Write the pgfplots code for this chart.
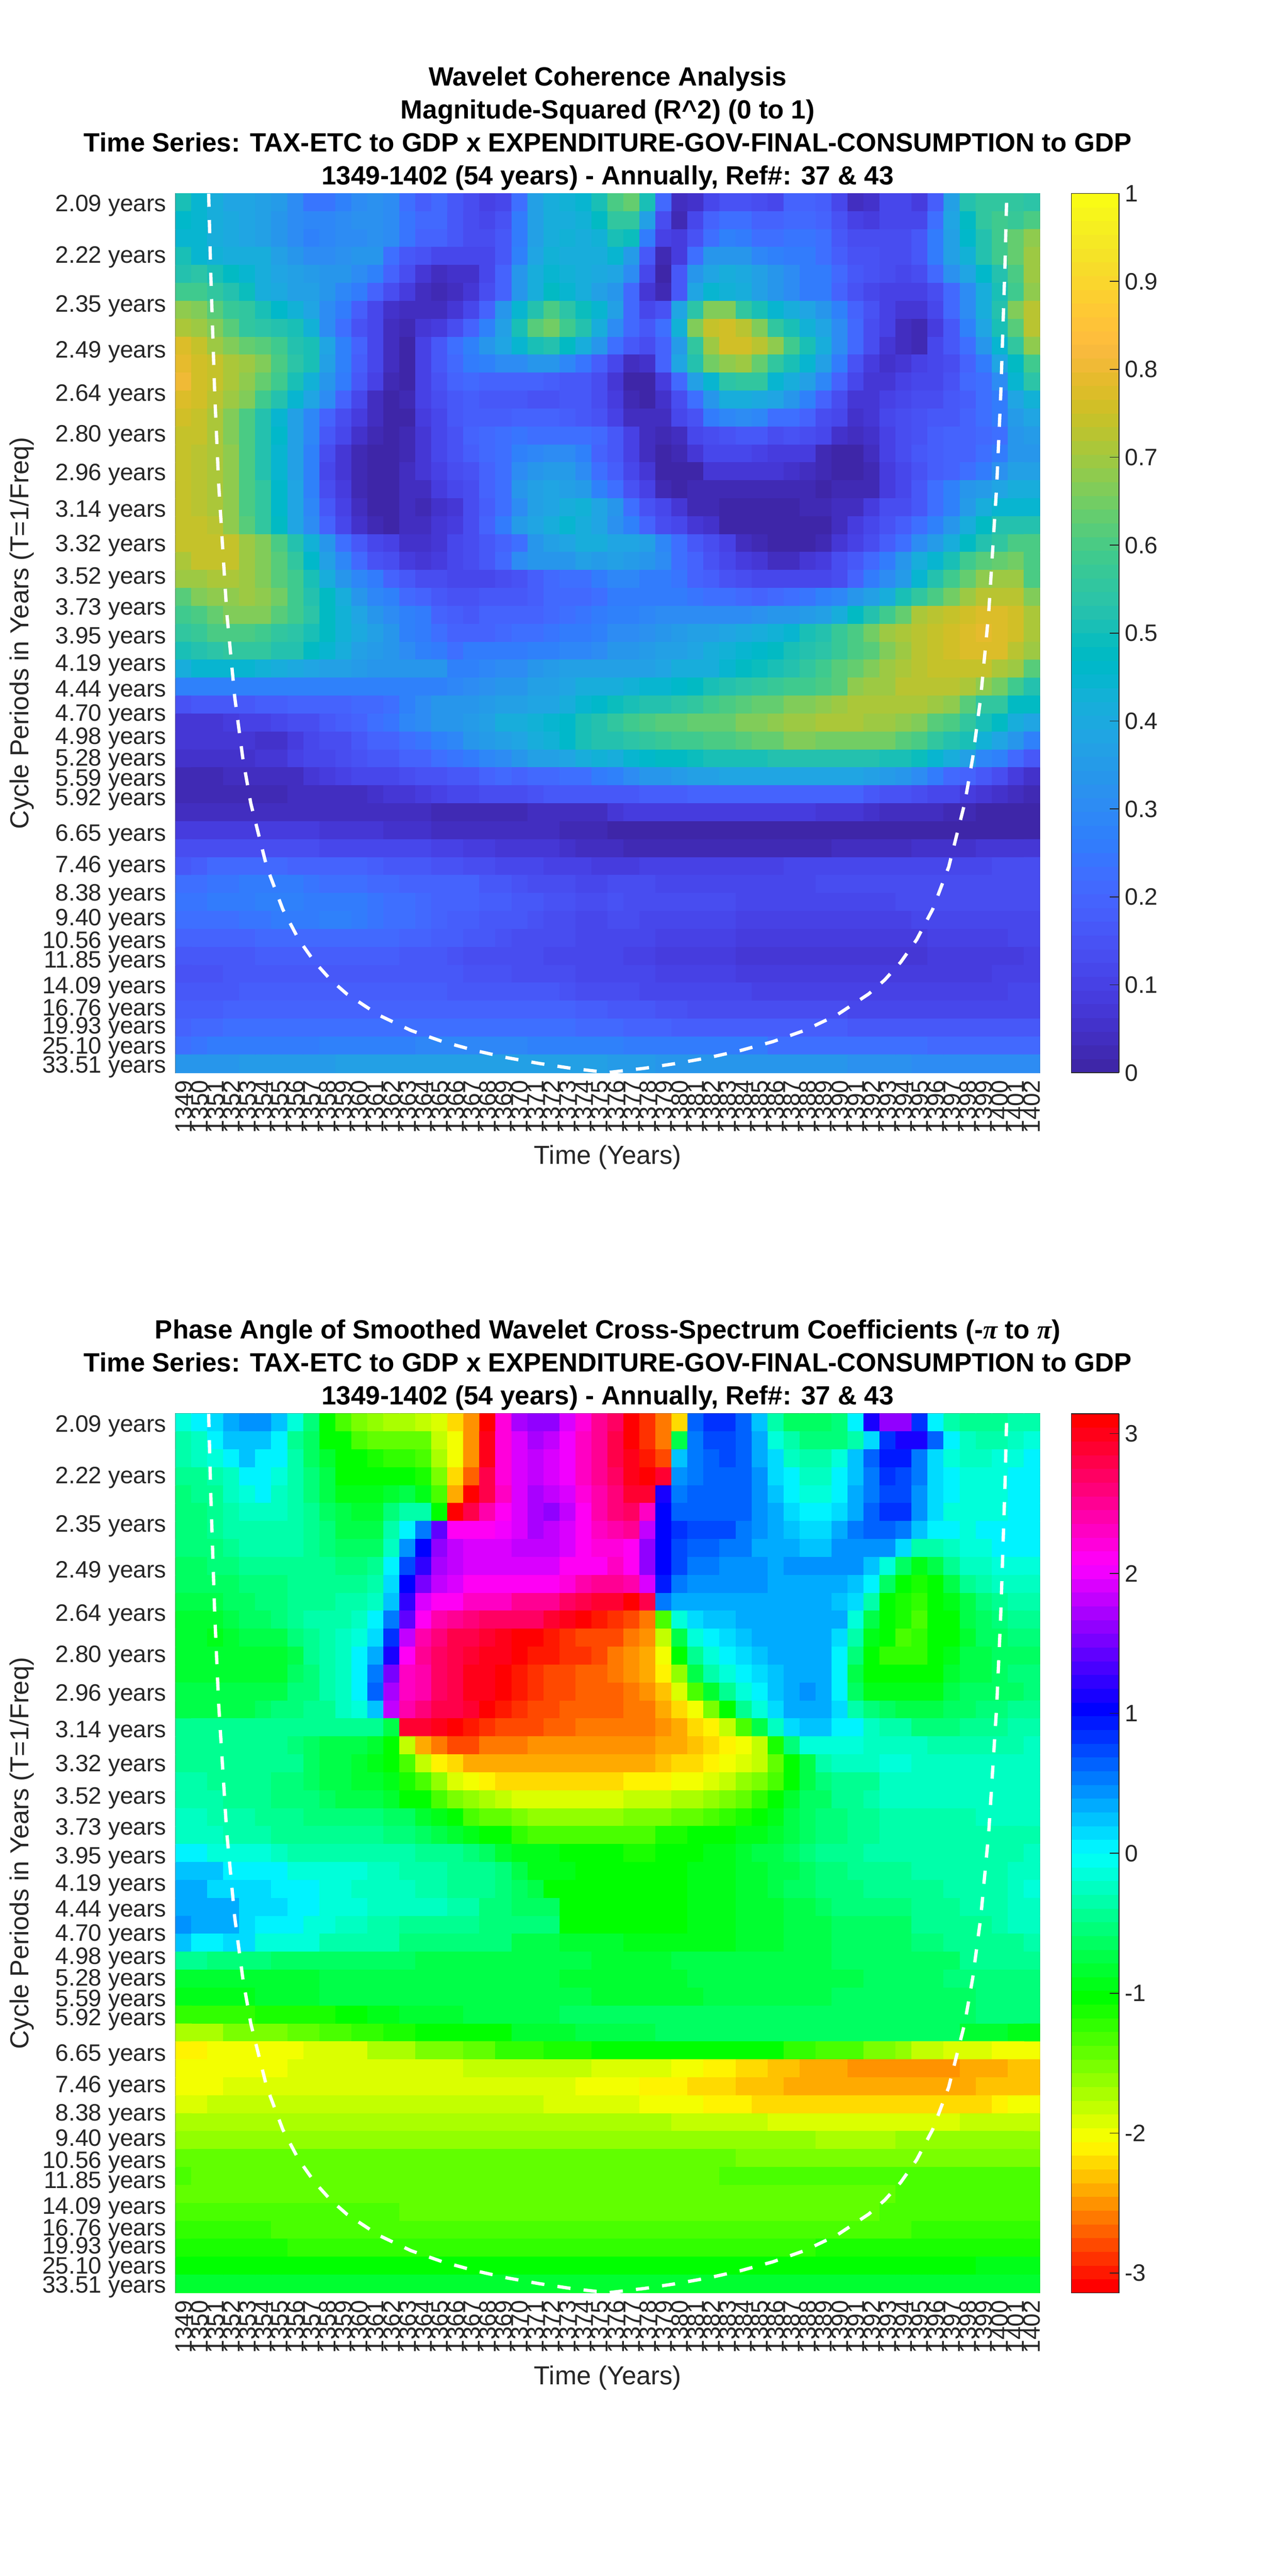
\documentclass[border=0pt]{standalone}
\usepackage{fontspec}
\setmainfont{Liberation Sans}
\newfontfamily\piserif{Liberation Serif}
\usepackage{pgfplots}
\pgfplotsset{compat=1.18}
\definecolor{axc}{HTML}{262626}
\pgfplotsset{
colormap={parula}{
rgb=(0.2422,0.1504,0.6603) rgb=(0.2504,0.1650,0.7076) rgb=(0.2578,0.1818,0.7511) rgb=(0.2647,0.1978,0.7952)
rgb=(0.2706,0.2147,0.8364) rgb=(0.2751,0.2342,0.8710) rgb=(0.2783,0.2559,0.8991) rgb=(0.2803,0.2782,0.9221)
rgb=(0.2813,0.3006,0.9414) rgb=(0.2810,0.3228,0.9579) rgb=(0.2795,0.3447,0.9717) rgb=(0.2760,0.3667,0.9829)
rgb=(0.2699,0.3892,0.9906) rgb=(0.2602,0.4123,0.9952) rgb=(0.2440,0.4358,0.9988) rgb=(0.2206,0.4603,0.9973)
rgb=(0.1963,0.4847,0.9892) rgb=(0.1834,0.5074,0.9798) rgb=(0.1786,0.5289,0.9682) rgb=(0.1764,0.5499,0.9520)
rgb=(0.1687,0.5703,0.9359) rgb=(0.1540,0.5902,0.9218) rgb=(0.1460,0.6091,0.9079) rgb=(0.1380,0.6276,0.8973)
rgb=(0.1248,0.6459,0.8883) rgb=(0.1113,0.6635,0.8763) rgb=(0.0952,0.6798,0.8598) rgb=(0.0689,0.6948,0.8394)
rgb=(0.0297,0.7082,0.8163) rgb=(0.0036,0.7203,0.7917) rgb=(0.0067,0.7312,0.7660) rgb=(0.0433,0.7411,0.7394)
rgb=(0.0964,0.7500,0.7120) rgb=(0.1408,0.7584,0.6842) rgb=(0.1717,0.7670,0.6554) rgb=(0.1938,0.7758,0.6251)
rgb=(0.2161,0.7843,0.5923) rgb=(0.2470,0.7918,0.5567) rgb=(0.2906,0.7973,0.5188) rgb=(0.3406,0.8008,0.4789)
rgb=(0.3909,0.8029,0.4354) rgb=(0.4456,0.8024,0.3909) rgb=(0.5044,0.7993,0.3480) rgb=(0.5616,0.7942,0.3045)
rgb=(0.6174,0.7876,0.2612) rgb=(0.6720,0.7793,0.2227) rgb=(0.7242,0.7698,0.1910) rgb=(0.7738,0.7598,0.1646)
rgb=(0.8203,0.7498,0.1535) rgb=(0.8634,0.7406,0.1596) rgb=(0.9035,0.7330,0.1774) rgb=(0.9393,0.7282,0.2100)
rgb=(0.9728,0.7298,0.2394) rgb=(0.9956,0.7434,0.2371) rgb=(0.9970,0.7659,0.2199) rgb=(0.9952,0.7893,0.2028)
rgb=(0.9892,0.8136,0.1885) rgb=(0.9786,0.8386,0.1766) rgb=(0.9676,0.8639,0.1643) rgb=(0.9610,0.8890,0.1537)
rgb=(0.9597,0.9135,0.1423) rgb=(0.9628,0.9373,0.1265) rgb=(0.9691,0.9606,0.1064) rgb=(0.9769,0.9839,0.0805)},
colormap={hsvbase}{rgb=(1,0,0) rgb=(1,1,0) rgb=(0,1,0) rgb=(0,1,1) rgb=(0,0,1) rgb=(1,0,1) rgb=(1,0,0)},
colormap={phase}{samples of colormap=(64 of hsvbase)},
wav/.style={
 scale only axis, width=524.5pt, height=533.5pt, anchor=south west,
 xmin=1348.5, xmax=1402.5, ymin=-0.5, ymax=48.5, y dir=reverse, enlargelimits=false,
 axis line style={axc,line width=0.55pt}, tick style={axc,line width=0.5pt},
 tick align=inside, major tick length=5pt, tick pos=both,
 xtick={1349,1350,...,1402},
 /pgf/number format/.cd,1000 sep={},assume math mode=true,/pgfplots/.cd,
 xticklabel style={rotate=90,anchor=east,xshift=-1pt,yshift=0pt,text=axc,font=\fontsize{14.4}{14.4}\selectfont},
 yticklabel style={text=axc,font=\fontsize{14.4}{14.4}\selectfont,xshift=-2pt,yshift=-2pt},
 ytick={0,2.874,5.586,8.146,10.563,12.844,14.996,17.028,18.946,20.756,22.465,24.078,25.6,27.037,28.393,29.673,30.881,32.022,33.098,34.114,35.073,35.978,36.833,37.639,38.4,39.118,39.797,40.437,41.04,41.611,42.149,42.657,43.137,43.589,44.017,44.419,44.8,45.159,45.498,45.818,46.12,46.406,46.675,46.928,47.168,47.394,47.608,47.809,48},
 yticklabels={2.09 years,2.22 years,2.35 years,2.49 years,2.64 years,2.80 years,2.96 years,3.14 years,3.32 years,3.52 years,3.73 years,3.95 years,4.19 years,4.44 years,4.70 years,4.98 years,5.28 years,5.59 years,5.92 years,,6.65 years,,7.46 years,,8.38 years,,9.40 years,,10.56 years,,11.85 years,,,14.09 years,,,16.76 years,,,19.93 years,,,,25.10 years,,,,,33.51 years},
 xlabel={Time (Years)}, ylabel={Cycle Periods in Years (T=1/Freq)},
 xlabel style={at={(axis description cs:0.5,-0.0965)},anchor=center,text=axc,font=\fontsize{15.8}{15.8}\selectfont},
 ylabel style={at={(axis description cs:-0.178,0.5)},anchor=center,text=axc,font=\fontsize{15.8}{15.8}\selectfont},
 title style={anchor=south,align=center,at={(axis description cs:0.5,1)},yshift=-7.5pt,font=\fontsize{16}{20}\selectfont\bfseries},
 colormap access=piecewise constant,
 colorbar sampled,
},
wavbar/.style={
 scale only axis, width=29pt, height=533.5pt,
 at={(parent axis.north east)}, anchor=north west, xshift=10.5pt,
 samples=65, axis line style={axc,line width=0.55pt},
 tick style={axc,line width=0.5pt}, major tick length=5.6pt, tick align=inside,
 ytick pos=right, yticklabel pos=right,
 yticklabel style={text=axc,font=\fontsize{14.4}{14.4}\selectfont,xshift=0pt,yshift=0pt},
},
}
\makeatletter
\newcount\cellcol \newcount\cellrow
\def\addcell#1{\ifnum\cellcol<54 \xdef\allcoords{\allcoords(\the\numexpr1349+\cellcol\relax,\the\cellrow)[\cellfmt{#1}]}\advance\cellcol by 1 \fi\gdef\lastcell{#1}}
\def\rowloop#1 {\ifx;#1\else\addcell{#1}\expandafter\rowloop\fi}
\def\padrow{\ifnum\cellcol<54 \expandafter\addcell\expandafter{\lastcell}\expandafter\padrow\fi}
\def\R#1{\cellcol=0 \rowloop#1 ; \padrow\global\advance\cellrow by 1 }
\makeatother
\def\cellA#1{0.#1}
\def\cellB#1{#1e-1}
\let\cellfmt\cellA \gdef\allcoords{} \cellrow=0
\R{50 44 41 39 39 37 35 30 24 24 27 31 32 30 23 18 21 17 13 10 12 23 37 42 43 44 51 60 64 50 21 04 06 12 15 15 13 12 19 20 18 12 04 06 12 12 08 18 37 52 56 56 55 54}
\R{46 44 41 40 38 37 33 30 29 29 30 32 32 30 24 21 21 17 13 12 15 25 37 42 42 43 48 55 55 37 13 03 11 19 22 22 19 19 21 21 19 15 10 08 12 12 12 23 38 47 56 58 57 60}
\R{45 44 42 40 38 37 33 31 28 29 30 30 32 31 24 19 19 16 14 13 17 26 37 42 43 42 43 50 49 25 10 08 15 23 27 25 22 22 24 24 22 17 13 13 13 14 16 26 37 46 52 58 63 68}
\R{50 44 43 42 42 41 37 33 31 31 32 33 33 23 17 15 12 11 11 12 17 28 38 43 42 42 42 44 35 16 03 08 23 33 33 33 29 28 25 25 23 18 15 15 14 14 16 26 36 43 52 58 64 70}
\R{53 54 50 48 44 42 39 37 35 33 33 31 28 20 14 07 04 06 06 11 19 33 42 44 43 42 40 39 30 11 01 16 33 39 42 40 36 33 31 26 25 21 17 15 14 12 13 21 32 39 46 53 60 70}
\R{59 58 56 52 49 42 40 37 36 33 29 25 19 13 08 04 03 04 07 13 20 33 42 47 44 42 37 33 21 07 03 17 38 44 43 42 36 33 30 26 25 19 15 12 10 10 10 14 21 31 42 50 58 68}
\R{68 66 62 57 55 51 46 43 38 31 25 18 12 06 04 04 04 07 12 20 33 44 53 60 54 49 44 36 21 11 15 38 54 66 66 56 50 44 42 39 33 27 20 15 10 07 07 12 21 30 42 53 66 72}
\R{71 70 66 61 56 54 52 50 43 31 23 15 11 04 03 07 08 13 20 28 37 50 62 65 58 52 42 31 21 17 23 43 66 74 75 72 66 56 50 43 39 31 21 13 10 04 03 08 16 27 39 50 62 72}
\R{78 74 70 66 64 62 58 53 50 38 28 20 12 04 01 10 16 22 27 33 38 44 50 52 47 42 33 22 16 14 19 35 56 70 75 76 72 68 58 50 41 31 21 13 07 04 03 11 16 23 33 44 56 68}
\R{79 75 74 71 70 66 60 54 50 37 27 18 12 04 01 10 16 21 25 28 30 31 33 33 29 24 18 11 04 06 19 38 52 65 68 70 64 56 50 44 37 25 15 08 06 07 10 11 13 20 26 39 48 58}
\R{80 76 74 71 68 63 58 50 43 34 25 17 10 03 01 10 15 19 21 20 20 20 20 18 17 16 13 07 01 01 08 21 37 44 54 56 56 44 42 37 29 19 11 07 07 10 11 12 15 21 23 30 44 54}
\R{78 76 72 70 66 58 52 44 39 30 20 11 04 01 03 10 13 17 18 17 17 16 15 15 16 16 13 08 03 01 06 14 23 33 41 42 40 38 34 28 20 13 07 07 10 12 14 14 16 18 22 26 38 43}
\R{76 74 71 66 60 53 44 37 29 20 14 08 04 00 01 08 12 16 18 18 18 20 20 19 18 17 15 10 04 04 04 11 15 25 29 30 29 23 23 20 13 11 06 07 11 13 15 17 17 19 23 26 35 39}
\R{74 74 71 67 60 53 46 37 29 16 11 06 03 01 03 07 12 15 20 21 23 24 23 23 23 23 21 16 10 04 03 04 11 14 15 17 16 13 15 13 11 06 04 06 10 14 15 18 19 20 21 23 33 35}
\R{74 73 71 68 60 53 45 37 27 13 07 03 01 00 03 07 11 15 18 21 23 27 29 30 30 28 20 16 10 04 01 03 07 11 11 11 10 08 08 08 03 01 01 04 10 13 16 18 19 20 23 26 33 34}
\R{74 73 71 68 60 53 45 37 27 12 07 03 01 01 04 07 10 13 15 20 23 31 33 35 35 31 23 18 12 07 01 01 01 07 07 07 07 07 06 04 03 01 01 03 08 12 15 18 20 23 26 32 37 37}
\R{74 73 71 68 60 55 46 38 27 14 08 03 01 01 04 04 08 11 13 20 23 33 36 39 37 35 28 23 15 10 03 01 03 03 03 03 03 03 03 03 01 03 03 03 08 11 17 23 28 33 35 39 42 42}
\R{74 73 71 68 60 55 46 38 29 17 10 04 01 01 04 03 06 07 13 18 23 31 36 39 42 43 38 34 23 15 11 07 03 03 01 01 01 01 01 03 03 04 04 08 13 14 17 22 28 35 42 44 44 45}
\R{74 74 72 68 62 56 48 39 31 19 12 06 03 01 04 04 07 08 14 19 25 35 39 42 44 42 38 32 28 19 13 11 07 06 01 00 00 00 00 00 01 04 08 12 15 18 23 28 34 41 47 52 52 52}
\R{74 74 74 74 70 67 60 52 43 33 23 16 12 10 06 06 07 12 13 16 20 23 33 37 39 42 42 39 38 36 29 23 17 13 10 04 03 01 01 01 03 07 10 13 18 22 31 35 42 47 53 56 60 60}
\R{71 74 74 74 70 67 62 55 46 37 29 21 15 13 08 07 08 11 14 17 21 30 33 34 34 36 35 37 35 34 30 23 19 15 11 08 07 04 04 07 08 13 17 21 26 34 42 44 51 58 62 63 65 60}
\R{70 70 71 71 70 67 62 58 50 41 34 29 25 20 17 14 13 11 11 12 13 15 18 21 23 23 25 29 29 26 25 24 20 18 15 13 11 11 11 12 12 14 19 25 30 35 44 53 58 64 68 70 70 60}
\R{62 66 68 68 70 68 65 58 53 48 42 33 29 28 21 19 16 15 15 17 17 17 18 21 21 21 23 25 25 25 25 25 24 23 22 21 20 21 22 24 27 29 33 37 42 50 55 60 65 70 72 72 72 66}
\R{58 60 64 66 67 66 62 58 54 48 43 38 33 31 27 25 20 18 17 19 19 19 20 21 23 24 25 27 28 29 30 30 30 30 30 31 32 33 33 35 37 42 47 52 58 64 71 72 74 76 77 77 75 71}
\R{55 57 60 60 60 58 56 54 50 47 43 40 37 33 28 26 22 20 20 20 21 22 23 24 26 26 28 30 31 32 33 35 37 37 39 40 42 43 45 50 53 57 60 65 70 71 73 74 75 77 79 77 75 71}
\R{50 52 54 56 56 55 53 52 48 45 41 37 35 33 30 27 25 23 25 25 25 26 27 28 29 29 31 33 33 35 37 37 39 42 43 44 46 48 50 52 54 57 60 62 66 70 72 74 75 77 77 77 72 70}
\R{42 44 45 45 44 43 42 40 38 37 36 35 33 33 33 33 33 27 27 29 31 31 33 35 36 37 37 36 36 37 39 41 42 42 44 47 49 50 53 56 58 61 64 66 70 71 72 74 74 74 74 71 70 62}
\R{27 27 27 27 27 27 27 27 27 27 27 27 27 27 27 27 27 29 30 32 33 34 36 37 39 41 42 42 43 44 44 46 48 50 52 54 56 57 58 59 60 62 68 70 70 72 72 72 72 71 68 65 58 52}
\R{15 16 16 17 17 18 18 19 19 20 20 21 21 23 28 31 33 34 34 35 37 37 38 39 42 44 46 49 50 52 53 54 56 58 60 62 63 64 66 67 68 70 71 71 71 71 71 70 68 62 56 55 48 47}
\R{07 07 07 08 10 10 12 13 14 16 18 20 22 24 29 31 33 33 35 37 41 42 43 44 46 50 52 55 58 60 62 62 64 64 64 66 66 68 70 70 71 71 71 70 70 68 66 62 60 55 50 47 42 38}
\R{07 07 07 07 07 06 06 08 11 13 14 16 19 20 22 24 27 29 33 35 37 39 42 43 46 50 52 52 54 55 57 58 59 60 60 62 63 64 66 66 65 65 65 65 65 62 60 56 53 50 43 38 33 27}
\R{06 06 06 06 06 07 07 10 11 12 14 15 17 17 19 20 22 24 26 29 31 33 36 37 38 41 43 42 44 46 47 48 49 50 50 50 51 52 52 52 52 52 52 52 51 50 49 44 41 36 29 27 21 17}
\R{03 03 03 04 04 04 04 04 07 08 10 11 12 12 13 15 15 17 17 19 21 20 21 21 22 23 26 28 30 33 33 35 36 37 38 38 39 39 39 39 39 39 38 37 35 33 31 25 21 19 16 13 08 06}
\R{03 03 03 03 03 03 03 04 04 04 04 04 06 07 07 08 10 11 12 13 14 14 15 16 16 16 17 17 17 18 18 18 19 19 19 19 19 19 19 19 19 19 19 17 15 15 13 12 11 08 07 06 04 03}
\R{04 04 04 04 04 04 04 04 04 04 04 04 04 04 04 04 03 03 03 03 03 03 04 04 04 04 04 07 08 08 08 08 08 08 08 08 08 08 08 08 07 07 07 06 04 04 04 04 03 03 01 01 01 01}
\R{08 08 08 08 08 08 08 08 08 07 07 07 07 06 06 06 04 04 04 04 04 04 04 04 03 03 03 01 01 01 01 01 01 01 01 01 01 00 00 00 00 00 00 00 00 00 00 00 00 01 01 01 01 01}
\R{14 14 14 14 14 14 14 13 13 12 12 12 11 11 11 11 10 10 08 08 07 07 07 07 06 04 04 04 03 03 03 03 03 03 03 03 03 03 03 03 03 04 04 04 04 04 06 06 06 06 07 07 07 07}
\R{17 18 21 21 21 21 21 20 20 19 19 19 18 17 16 16 15 15 14 13 12 11 11 10 10 10 08 08 08 10 10 10 10 10 10 10 10 10 11 11 11 11 11 11 11 11 11 12 12 12 12 13 13 13}
\R{22 22 24 24 26 26 25 25 24 23 23 23 21 21 20 19 19 19 19 17 16 15 14 13 13 12 12 13 13 13 12 12 12 12 12 12 12 12 12 12 13 13 13 13 13 13 13 13 13 14 14 14 14 14}
\R{24 24 25 26 26 27 27 27 26 26 26 25 24 23 22 21 20 19 19 18 18 16 16 15 15 14 13 15 14 14 14 13 13 13 13 12 12 12 12 12 12 12 12 12 12 13 13 13 13 13 14 14 14 14}
\R{22 22 23 23 24 24 25 26 26 27 27 25 24 23 22 21 20 18 18 17 16 16 15 14 13 12 12 13 13 12 12 11 11 11 11 10 10 10 10 10 10 10 10 10 10 10 11 11 11 11 11 12 12 12}
\R{19 19 19 20 20 21 21 21 21 21 21 21 21 21 20 19 18 18 17 16 15 14 14 13 13 12 12 12 11 11 10 10 10 10 10 08 08 08 08 08 08 08 08 08 08 08 08 10 10 10 10 10 11 11}
\R{16 16 17 17 17 18 18 18 18 18 18 18 18 18 17 16 16 15 14 14 14 13 13 12 12 11 11 11 10 10 08 08 08 08 08 07 07 07 07 07 07 07 07 07 07 07 07 08 08 08 08 08 08 10}
\R{15 15 15 16 16 16 17 17 17 17 17 17 17 17 17 16 16 16 15 15 15 14 14 13 13 12 11 11 11 11 10 10 10 10 10 08 08 08 08 08 08 08 08 08 08 08 08 08 08 08 08 10 10 10}
\R{16 17 17 17 18 18 18 18 18 18 18 18 18 18 18 18 18 17 17 17 17 16 16 16 15 14 13 13 13 12 12 12 11 11 11 11 10 10 10 10 10 10 10 10 10 10 10 10 10 10 10 10 11 11}
\R{18 18 18 19 19 19 20 20 20 20 20 20 20 20 20 20 20 20 20 20 20 20 19 19 19 18 18 17 16 16 15 15 14 14 14 13 13 13 13 13 13 13 12 12 12 12 12 11 11 12 12 12 12 12}
\R{20 21 21 22 22 22 22 22 22 22 23 23 23 23 23 23 23 23 23 23 23 23 22 22 22 21 21 21 20 20 19 18 18 18 18 18 18 18 18 18 18 18 17 17 17 17 17 16 16 16 16 16 16 16}
\R{23 24 25 25 25 26 26 26 26 27 27 27 27 28 28 29 29 29 29 29 29 29 28 28 28 27 27 27 26 26 26 25 25 25 25 25 25 23 23 23 23 23 22 22 22 22 22 21 21 21 21 21 21 21}
\R{34 34 34 34 35 35 35 35 35 35 36 36 36 36 36 36 36 37 37 37 37 37 37 36 36 36 36 35 35 35 34 34 34 34 34 34 34 33 33 33 33 33 32 32 32 32 31 31 31 31 31 30 30 30}
\global\let\coordsA\allcoords
\let\cellfmt\cellB \gdef\allcoords{} \cellrow=0
\R{-1 0 1 3 4 4 2 -1 -5 -10 -13 -15 -16 -17 -17 -18 -19 -22 -25 -31 22 17 16 16 19 22 25 27 31 -29 -26 -22 6 8 8 6 2 -3 -6 -6 -6 -5 0 11 16 16 8 0 -3 -4 -4 -4 -3 -3}
\R{-3 -2 0 2 2 2 0 -4 -6 -10 -10 -13 -14 -14 -14 -14 -18 -20 -25 30 22 19 17 18 20 23 25 28 31 -29 -26 -7 5 7 7 6 3 -1 -3 -5 -5 -5 -3 1 8 11 11 6 0 -2 -3 -3 -2 -1}
\R{-3 -2 -1 0 2 0 0 -3 -6 -8 -10 -10 -11 -12 -12 -13 -17 -20 -25 30 22 19 18 19 20 23 25 28 30 -30 -28 2 5 6 7 6 3 1 -2 -3 -3 -1 2 6 9 9 5 1 -1 -2 -2 -1 -1 0}
\R{-4 -4 -3 -2 0 0 -1 -3 -5 -7 -10 -10 -10 -10 -10 -11 -15 -22 -27 28 22 19 18 19 20 23 25 27 30 31 29 4 5 6 6 6 4 1 0 -2 -2 0 2 5 8 7 5 1 0 -1 -1 -1 0 0}
\R{-5 -4 -4 -2 -1 0 -2 -3 -5 -7 -9 -9 -9 -8 -7 -9 -13 -24 -31 28 23 19 17 18 19 22 24 26 29 29 11 5 6 6 6 6 4 2 0 -1 -1 0 3 5 7 7 4 1 0 -1 -1 -1 0 0}
\R{-5 -5 -4 -3 -2 -2 -2 -3 -4 -6 -7 -8 -8 -5 -3 -3 -10 31 28 24 21 19 17 16 18 21 24 26 27 23 10 6 6 6 6 6 4 3 1 0 0 1 3 6 8 8 4 1 -1 -1 -1 -1 0 0}
\R{-5 -5 -4 -3 -3 -3 -3 -3 -4 -5 -7 -7 -7 -3 0 5 14 21 21 21 20 19 17 18 19 21 23 24 25 18 10 8 7 7 7 5 4 3 2 1 1 3 5 6 6 5 2 0 0 -1 0 0 0 0}
\R{-5 -5 -5 -4 -3 -3 -3 -3 -4 -5 -6 -6 -6 -2 4 10 16 18 19 19 19 18 18 18 19 21 22 22 21 16 10 7 6 6 5 5 3 3 3 2 2 4 4 4 4 1 -3 -3 -2 -1 -1 0 0 0}
\R{-6 -6 -5 -5 -4 -4 -4 -4 -4 -4 -5 -5 -4 0 7 12 17 18 19 19 19 19 19 19 21 21 21 23 21 16 10 7 5 5 4 4 4 3 4 4 4 4 4 2 -1 -6 -9 -7 -4 -2 -2 -1 -1 -1}
\R{-6 -6 -6 -6 -5 -5 -5 -4 -4 -4 -4 -4 -3 1 10 15 18 19 21 21 21 21 21 21 22 24 25 25 24 19 9 5 4 4 4 4 4 3 3 3 3 3 2 0 -6 -10 -11 -10 -7 -4 -3 -2 -2 -2}
\R{-7 -7 -7 -6 -6 -5 -5 -4 -4 -4 -3 -3 -2 2 12 19 21 21 23 23 23 25 25 25 27 28 29 29 31 28 5 3 3 3 3 3 3 3 3 3 3 2 1 -3 -10 -11 -12 -10 -9 -7 -5 -4 -3 -3}
\R{-8 -8 -8 -7 -6 -6 -5 -4 -3 -3 -3 -2 0 5 14 21 24 25 26 27 27 27 27 29 30 31 -30 -29 -28 -26 -13 -1 1 2 2 3 3 3 3 3 3 3 -1 -7 -10 -11 -13 -10 -10 -7 -6 -5 -4 -4}
\R{-8 -8 -9 -8 -7 -7 -7 -5 -4 -3 -2 -1 1 8 18 24 26 28 28 29 30 31 31 -30 -29 -28 -28 -28 -26 -25 -18 -7 -1 0 1 2 3 3 3 3 3 1 -3 -9 -10 -13 -12 -10 -10 -8 -6 -6 -5 -5}
\R{-8 -8 -8 -8 -8 -8 -8 -7 -4 -3 -2 0 3 11 21 25 27 28 29 30 30 31 -30 -30 -29 -29 -28 -26 -25 -24 -20 -10 -4 -1 0 1 2 3 3 3 3 0 -5 -10 -12 -12 -12 -10 -9 -7 -7 -6 -6 -6}
\R{-8 -8 -8 -8 -8 -8 -8 -6 -5 -3 -2 0 5 15 23 24 27 28 30 30 31 -30 -29 -28 -28 -27 -27 -26 -25 -24 -21 -16 -7 -3 -1 0 1 2 3 3 3 0 -7 -10 -10 -10 -10 -10 -8 -7 -7 -6 -5 -5}
\R{-7 -7 -7 -7 -7 -7 -7 -5 -5 -3 -2 0 6 17 23 24 27 28 30 30 31 -30 -29 -28 -28 -27 -27 -27 -26 -25 -23 -19 -13 -8 -4 -1 0 2 3 4 3 0 -6 -9 -9 -9 -9 -9 -7 -6 -6 -6 -6 -5}
\R{-7 -7 -7 -7 -7 -6 -5 -5 -4 -4 -2 -1 2 18 24 26 28 28 29 31 -30 -29 -28 -28 -27 -27 -27 -27 -26 -26 -24 -22 -20 -15 -10 -4 -1 1 3 3 3 1 -3 -5 -6 -7 -7 -7 -6 -6 -5 -5 -4 -4}
\R{-4 -4 -4 -4 -4 -4 -4 -4 -4 -4 -4 -4 -4 -7 29 29 30 31 -30 -29 -28 -28 -28 -27 -27 -26 -26 -26 -26 -26 -25 -24 -22 -21 -18 -13 -7 -2 1 2 2 0 0 -2 -3 -3 -5 -5 -5 -4 -4 -4 -3 -3}
\R{-4 -4 -4 -4 -4 -4 -4 -5 -6 -7 -7 -7 -8 -10 -18 -24 -26 -28 -28 -26 -26 -26 -25 -25 -25 -25 -25 -25 -25 -25 -24 -24 -23 -22 -21 -20 -18 -11 -5 -1 -1 -1 -1 -2 -2 -2 -2 -3 -3 -3 -3 -3 -3 -2}
\R{-4 -4 -4 -4 -4 -4 -4 -4 -6 -7 -7 -8 -9 -10 -13 -18 -21 -22 -24 -24 -24 -24 -24 -24 -24 -24 -24 -24 -24 -24 -23 -22 -22 -21 -20 -19 -18 -14 -10 -7 -3 -2 -2 -2 -1 -1 -2 -2 -2 -2 -2 -2 -2 -2}
\R{-3 -3 -4 -4 -4 -4 -5 -5 -6 -7 -7 -8 -8 -9 -11 -13 -16 -19 -20 -21 -22 -22 -22 -22 -22 -22 -22 -22 -21 -21 -21 -20 -20 -19 -18 -16 -15 -13 -10 -7 -5 -4 -4 -4 -2 -2 -2 -2 -2 -2 -2 -2 -2 -2}
\R{-3 -3 -3 -4 -4 -4 -5 -5 -5 -6 -7 -7 -7 -8 -10 -10 -13 -15 -16 -17 -18 -19 -19 -19 -19 -19 -19 -19 -18 -18 -18 -17 -17 -16 -15 -14 -12 -10 -8 -6 -6 -4 -4 -3 -2 -2 -2 -2 -2 -2 -2 -2 -2 -2}
\R{-2 -2 -3 -3 -3 -4 -4 -4 -5 -5 -5 -5 -5 -6 -6 -8 -9 -10 -13 -14 -14 -15 -16 -16 -16 -16 -16 -16 -15 -15 -15 -14 -14 -13 -12 -11 -10 -9 -7 -6 -5 -5 -4 -4 -3 -3 -3 -3 -3 -3 -2 -2 -2 -2}
\R{-2 -2 -2 -3 -3 -3 -4 -4 -4 -4 -4 -4 -4 -5 -5 -6 -7 -8 -9 -10 -10 -12 -13 -13 -13 -13 -13 -13 -13 -13 -11 -11 -10 -10 -10 -9 -9 -8 -7 -6 -5 -5 -4 -4 -3 -3 -3 -3 -3 -3 -3 -3 -3 -3}
\R{0 0 -1 -1 -1 -1 -2 -3 -3 -3 -3 -3 -3 -3 -3 -4 -4 -4 -5 -6 -8 -9 -9 -9 -10 -10 -10 -10 -11 -11 -10 -10 -10 -9 -9 -8 -7 -7 -6 -5 -4 -4 -4 -3 -3 -3 -3 -3 -3 -3 -3 -3 -3 -2}
\R{2 2 2 0 0 0 0 -1 -1 -1 -1 -1 -2 -2 -3 -3 -3 -4 -4 -4 -5 -7 -9 -9 -9 -10 -10 -10 -10 -10 -10 -10 -9 -9 -9 -8 -8 -7 -7 -6 -5 -5 -4 -4 -4 -4 -3 -3 -3 -3 -3 -3 -2 -2}
\R{3 3 1 1 1 1 0 0 0 -1 -1 -2 -2 -2 -2 -3 -3 -4 -4 -4 -5 -6 -7 -10 -10 -10 -10 -10 -10 -10 -10 -10 -9 -9 -9 -8 -8 -7 -6 -6 -5 -5 -5 -4 -4 -4 -4 -4 -3 -3 -3 -3 -2 -1}
\R{3 3 3 3 1 1 1 0 0 -1 -1 -1 -2 -2 -2 -2 -2 -3 -3 -5 -5 -6 -6 -6 -10 -10 -10 -10 -10 -10 -10 -10 -9 -9 -9 -8 -8 -8 -7 -7 -6 -5 -5 -5 -5 -5 -4 -4 -4 -3 -3 -3 -2 -2}
\R{4 3 3 3 1 0 0 0 -1 -1 -2 -2 -3 -3 -4 -4 -4 -4 -4 -5 -5 -5 -5 -5 -10 -10 -10 -10 -10 -10 -10 -10 -9 -9 -9 -8 -8 -8 -7 -7 -7 -6 -6 -6 -6 -6 -4 -4 -4 -4 -4 -3 -2 -2}
\R{2 0 0 1 1 -1 -1 -1 -1 -3 -3 -3 -3 -3 -5 -5 -5 -5 -5 -5 -5 -7 -7 -7 -8 -8 -8 -8 -9 -9 -9 -9 -9 -9 -9 -8 -8 -8 -7 -7 -7 -6 -6 -6 -6 -6 -5 -5 -4 -4 -4 -4 -4 -3}
\R{-4 -4 -5 -5 -5 -5 -6 -6 -6 -6 -6 -6 -6 -6 -6 -7 -7 -7 -7 -7 -7 -7 -7 -7 -7 -7 -8 -8 -8 -8 -8 -7 -7 -7 -7 -7 -7 -7 -7 -7 -7 -6 -6 -6 -6 -6 -6 -6 -6 -4 -4 -4 -4 -4}
\R{-8 -8 -8 -8 -8 -8 -8 -8 -8 -7 -7 -7 -7 -7 -7 -7 -7 -7 -7 -7 -7 -7 -7 -7 -8 -8 -8 -8 -8 -8 -8 -8 -7 -7 -7 -7 -7 -7 -7 -7 -7 -7 -7 -6 -6 -6 -6 -6 -5 -5 -5 -5 -5 -5}
\R{-9 -9 -9 -9 -9 -8 -8 -8 -8 -7 -7 -7 -7 -7 -7 -7 -7 -7 -7 -7 -7 -7 -7 -7 -7 -7 -8 -8 -8 -8 -8 -8 -8 -7 -7 -7 -7 -7 -7 -7 -7 -6 -6 -6 -6 -6 -6 -6 -6 -6 -5 -5 -5 -5}
\R{-12 -12 -12 -12 -12 -11 -11 -11 -11 -11 -10 -10 -9 -9 -8 -8 -8 -8 -7 -7 -7 -7 -7 -7 -6 -6 -6 -6 -6 -6 -6 -6 -6 -6 -6 -6 -6 -6 -6 -6 -6 -6 -6 -6 -6 -6 -6 -6 -6 -6 -5 -5 -5 -5}
\R{-17 -17 -17 -15 -15 -15 -15 -14 -14 -13 -13 -12 -12 -11 -11 -10 -10 -10 -10 -10 -10 -8 -8 -8 -8 -7 -7 -7 -7 -7 -6 -6 -6 -6 -6 -6 -6 -6 -6 -6 -6 -6 -6 -6 -6 -6 -6 -6 -6 -8 -8 -8 -9 -9}
\R{-21 -21 -20 -20 -20 -20 -20 -20 -19 -19 -19 -19 -17 -17 -17 -15 -15 -15 -14 -14 -12 -12 -12 -11 -11 -11 -10 -10 -10 -10 -10 -10 -10 -10 -10 -10 -10 -10 -12 -12 -13 -13 -13 -15 -15 -16 -18 -18 -19 -19 -19 -20 -20 -20}
\R{-20 -20 -20 -20 -20 -20 -20 -19 -19 -19 -19 -19 -19 -19 -19 -19 -19 -19 -18 -18 -18 -18 -18 -18 -18 -18 -19 -19 -19 -19 -19 -20 -20 -21 -21 -22 -22 -23 -23 -24 -24 -24 -25 -25 -25 -25 -25 -25 -25 -24 -24 -24 -23 -23}
\R{-20 -20 -20 -19 -19 -19 -19 -19 -19 -19 -19 -19 -19 -19 -19 -19 -19 -19 -19 -19 -19 -19 -19 -19 -19 -20 -20 -20 -20 -21 -21 -21 -22 -22 -22 -23 -23 -23 -24 -24 -24 -24 -24 -24 -24 -24 -24 -24 -24 -24 -23 -23 -23 -23}
\R{-19 -19 -18 -18 -18 -18 -18 -18 -18 -18 -18 -18 -18 -18 -18 -18 -18 -18 -18 -18 -18 -18 -18 -19 -19 -19 -19 -19 -19 -20 -20 -20 -20 -21 -21 -21 -22 -22 -22 -22 -22 -22 -22 -22 -22 -22 -22 -22 -22 -22 -22 -21 -20 -20}
\R{-17 -17 -17 -17 -17 -17 -17 -17 -17 -17 -17 -17 -17 -17 -17 -17 -17 -17 -17 -17 -17 -17 -17 -17 -17 -17 -17 -17 -17 -17 -17 -18 -18 -18 -18 -18 -18 -19 -19 -19 -19 -19 -19 -19 -19 -19 -19 -19 -19 -18}
\R{-16 -16 -16 -16 -16 -16 -16 -16 -16 -16 -16 -16 -16 -16 -16 -16 -16 -16 -16 -16 -16 -16 -16 -16 -16 -16 -16 -16 -16 -16 -16 -16 -16 -16 -16 -16 -16 -16 -16 -16 -17 -17 -17 -17 -17 -16}
\R{-14 -14 -14 -14 -14 -14 -14 -14 -14 -14 -14 -14 -14 -14 -14 -14 -14 -14 -14 -14 -14 -14 -14 -14 -14 -14 -14 -14 -14 -14 -14 -14 -14 -14 -14 -15}
\R{-13 -14 -14 -14 -14 -14 -14 -14 -14 -14 -14 -14 -14 -14 -14 -14 -14 -14 -14 -14 -14 -14 -14 -14 -14 -14 -14 -14 -14 -14 -14 -14 -14 -14 -13}
\R{-14 -14 -14 -14 -14 -14 -14 -14 -14 -14 -14 -14 -14 -14 -14 -14 -14 -14 -14 -14 -14 -14 -14 -14 -14 -14 -14 -14 -14 -14 -14 -14 -14 -14 -14 -14 -14 -14 -14 -14 -14 -14 -14 -14 -14 -13}
\R{-13 -13 -13 -13 -13 -13 -13 -13 -13 -13 -13 -13 -13 -13 -14 -14 -14 -14 -14 -14 -14 -14 -14 -14 -14 -14 -14 -14 -14 -14 -14 -14 -14 -14 -14 -14 -14 -14 -14 -14 -14 -14 -14 -14 -13}
\R{-12 -12 -12 -12 -12 -12 -13 -13 -13 -13 -13 -13 -13 -13 -13 -13 -13 -13 -13 -13 -13 -13 -13 -13 -13 -13 -13 -13 -13 -13 -13 -13 -13 -13 -13 -13 -13 -13 -13 -13 -13 -13 -13 -13 -13 -13 -12}
\R{-11 -11 -11 -11 -11 -11 -11 -12 -12 -12 -12 -12 -12 -12 -12 -12 -12 -12 -12 -12 -12 -12 -12 -12 -12 -12 -12 -12 -12 -12 -12 -12 -12 -12 -12 -12 -12 -12 -12 -12 -11}
\R{-10 -10 -10 -10 -10 -10 -10 -10 -10 -10 -10 -10 -10 -10 -10 -10 -10 -10 -10 -10 -10 -10 -10 -10 -10 -10 -10 -10 -10 -10 -10 -10 -10 -10 -10 -10 -10 -10 -10 -10 -10 -10 -10 -10 -10 -10 -10 -10 -10 -10 -9}
\R{-8}
\global\let\coordsB\allcoords
\begin{document}
\begin{tikzpicture}
\path[use as bounding box] (0,0) rectangle (781.25pt,1563pt);
\begin{axis}[wav, at={(106.5pt,912.1pt)},
 title={Wavelet Coherence Analysis\\Magnitude-Squared (R\textasciicircum 2) (0 to 1)\\Time Series: TAX-ETC to GDP x EXPENDITURE-GOV-FINAL-CONSUMPTION to GDP\\1349-1402 (54 years) - Annually, Ref\#: 37 \& 43},
 colormap name=parula, point meta min=0, point meta max=1,
 colorbar style={wavbar, ytick={0,0.1,...,1}, yticklabels={0,0.1,0.2,0.3,0.4,0.5,0.6,0.7,0.8,0.9,1}},
]
\edef\temp{\noexpand\addplot[matrix plot*,mesh/cols=54,mesh/ordering=x varies,point meta=explicit] coordinates {\coordsA};}\temp
\addplot[white,line width=2pt,dash pattern=on 8pt off 8pt,forget plot] coordinates {(1350.57,-0.49)(1350.7,3.95)(1350.95,10.7)(1351.2,15.77)(1351.7,22.85)(1352.2,27.58)(1352.7,30.95)(1353.2,33.48)(1354.2,37.03)(1355.2,39.39)(1356.2,41.08)(1357.2,42.34)(1358.2,43.33)(1359.2,44.11)(1361.2,45.29)(1363.2,46.14)(1365.2,46.77)(1367.2,47.26)(1369.2,47.66)(1371.2,47.98)(1373.2,48.25)(1375.5,48.49)(1377.8,48.25)(1379.8,47.98)(1381.8,47.66)(1383.8,47.26)(1385.8,46.77)(1387.8,46.14)(1389.8,45.29)(1391.8,44.11)(1392.8,43.33)(1393.8,42.34)(1394.8,41.08)(1395.8,39.39)(1396.8,37.03)(1397.8,33.48)(1398.3,30.95)(1398.8,27.58)(1399.3,22.85)(1399.8,15.77)(1400.05,10.7)(1400.3,3.95)(1400.43,-0.49)};
\end{axis}
\begin{axis}[wav, at={(106.5pt,171.75pt)},
 title={Phase Angle of Smoothed Wavelet Cross-Spectrum Coefficients (-{\piserif\itshape π} to {\piserif\itshape π})\\Time Series: TAX-ETC to GDP x EXPENDITURE-GOV-FINAL-CONSUMPTION to GDP\\1349-1402 (54 years) - Annually, Ref\#: 37 \& 43},
 colormap name=phase, point meta min=-3.14159, point meta max=3.14159,
 colorbar style={wavbar, ytick={-3,-2,-1,0,1,2,3}, yticklabels={-3,-2,-1,0,1,2,3}},
]
\edef\temp{\noexpand\addplot[matrix plot*,mesh/cols=54,mesh/ordering=x varies,point meta=explicit] coordinates {\coordsB};}\temp
\addplot[white,line width=2pt,dash pattern=on 8pt off 8pt,forget plot] coordinates {(1350.57,-0.49)(1350.7,3.95)(1350.95,10.7)(1351.2,15.77)(1351.7,22.85)(1352.2,27.58)(1352.7,30.95)(1353.2,33.48)(1354.2,37.03)(1355.2,39.39)(1356.2,41.08)(1357.2,42.34)(1358.2,43.33)(1359.2,44.11)(1361.2,45.29)(1363.2,46.14)(1365.2,46.77)(1367.2,47.26)(1369.2,47.66)(1371.2,47.98)(1373.2,48.25)(1375.5,48.49)(1377.8,48.25)(1379.8,47.98)(1381.8,47.66)(1383.8,47.26)(1385.8,46.77)(1387.8,46.14)(1389.8,45.29)(1391.8,44.11)(1392.8,43.33)(1393.8,42.34)(1394.8,41.08)(1395.8,39.39)(1396.8,37.03)(1397.8,33.48)(1398.3,30.95)(1398.8,27.58)(1399.3,22.85)(1399.8,15.77)(1400.05,10.7)(1400.3,3.95)(1400.43,-0.49)};
\end{axis}
\end{tikzpicture}
\end{document}
